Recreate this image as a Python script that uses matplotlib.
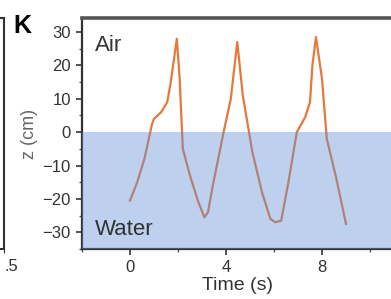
import matplotlib
matplotlib.use('Agg')
from matplotlib import pyplot as plt
from matplotlib.ticker import MultipleLocator

# trace
time_s = [0.0, 0.3, 0.6, 0.92, 1.0, 1.3, 1.55, 1.7, 1.95, 2.07, 2.2, 2.5, 2.85, 3.1, 3.25,
          3.45, 3.9, 4.2, 4.47, 4.7, 5.1, 5.5, 5.85, 6.05, 6.3, 6.6, 6.95, 7.3, 7.5, 7.6,
          7.75, 8.0, 8.2, 8.6, 9.0]
z_cm = [-20.5, -15, -8, 2.5, 4, 6, 9, 15, 28, 16, -5, -13, -21, -25.5, -24,
        -16, 0, 10, 27, 11, -6, -18, -26, -27, -26.5, -15, 0, 4.5, 9, 20,
        28.5, 16, -2, -14, -27.5]

x_ticks = [0, 4, 8]
y_ticks = [-30, -20, -10, 0, 10, 20, 30]

plt.rcParams['font.family'] = ['Liberation Sans', 'DejaVu Sans']

W, H = 391, 299
fig = plt.figure(figsize=(W / 100, H / 100), dpi=100)

# bit of the neighbouring panel on the left (its last tick label is cut, only ".5" shows)
ax0 = fig.add_axes([-0.3, 50 / H, 0.3 + 4 / W, 231 / H])
ax0.set_xlim(0, 2.5)
ax0.set_xticks([2.5])
ax0.set_xticklabels(['.5'], ha='left')
ax0.set_yticks([])
for s in ax0.spines.values():
    s.set_linewidth(1.5)
    s.set_color('#333333')
ax0.tick_params(axis='x', direction='out', length=3, labelsize=12, colors='#333333', pad=4)

ax = fig.add_axes([82 / W, 50 / H, 312 / W, 231 / H])
ax.plot(time_s, z_cm, color='#e8783a', linewidth=1.6, zorder=2)
ax.axhspan(-40, 0, color='#5c8ed9', alpha=0.4, linewidth=0, zorder=3)

ax.set_xlim(-2, 11)
ax.set_ylim(-35, 34.2)
ax.set_xticks(x_ticks)
ax.set_yticks(y_ticks)
ax.xaxis.set_minor_locator(MultipleLocator(2))
ax.yaxis.set_minor_locator(MultipleLocator(5))

ax.tick_params(which='major', direction='out', length=4, width=1.2, labelsize=12,
               colors='#333333', pad=4)
ax.tick_params(which='minor', direction='out', length=2, width=1, colors='#555555')

ax.spines['top'].set_linewidth(2.6)
ax.spines['top'].set_color('#555555')
ax.spines['left'].set_linewidth(1.6)
ax.spines['left'].set_color('#333333')
ax.spines['bottom'].set_linewidth(1.6)
ax.spines['bottom'].set_color('#333333')
ax.spines['right'].set_visible(False)

ax.set_xlabel('Time (s)', fontsize=14, color='#333333', labelpad=1)
ax.set_ylabel('z (cm)', fontsize=13, color='#666666', labelpad=3)

ax.text(0.042, 0.855, 'Air', transform=ax.transAxes, fontsize=16, color='#333333',
        va='baseline', zorder=5)
ax.text(0.042, 0.06, 'Water', transform=ax.transAxes, fontsize=16, color='#333333',
        va='baseline', zorder=5)

fig.text(13 / W, 1 - 33 / H, 'K', fontsize=18, fontweight='bold', va='baseline')

fig.savefig('out.png', dpi=100)
